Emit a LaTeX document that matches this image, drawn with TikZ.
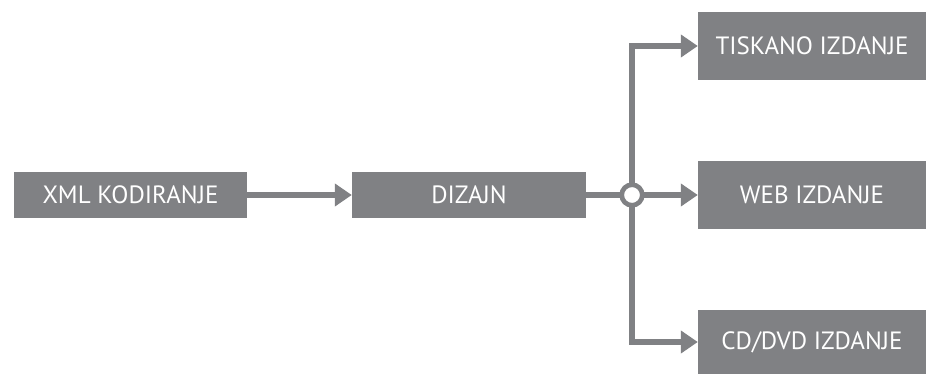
\documentclass[tikz,border=0pt]{standalone}
\usepackage{fontspec}
\setmainfont{PT Sans}
\usepackage{tikz}
\usetikzlibrary{arrows.meta}
\definecolor{boxgray}{RGB}{128,129,132}

\begin{document}
\begin{tikzpicture}[x=1pt, y=-1pt,
    stage/.style={fill=boxgray, text=white, inner sep=0pt, minimum height=46pt,
                  font=\fontsize{25}{25}\selectfont},
    output/.style={stage, minimum width=228pt, minimum height=68pt},
    flow/.style={draw=boxgray, line width=6pt, miter limit=4},
    flowto/.style={flow, -{Triangle[length=17pt,width=22pt]}}]
\useasboundingbox (0,0) rectangle (926,374);
\node[stage, minimum width=233pt] (xml) at (130.5,195) {XML KODIRANJE};
\node[stage, minimum width=234pt] (dizajn) at (469,195) {DIZAJN};
\node[output] (tisak) at (812,46) {TISKANO IZDANJE};
\node[output] (web) at (812,195) {WEB IZDANJE};
\node[output, minimum height=64pt] (cd) at (812,342) {CD/DVD IZDANJE};
\node[circle, draw=boxgray, line width=4.7pt, fill=white, minimum size=20.6pt,
      inner sep=0pt, outer sep=0pt] (split) at (632,195) {};
\coordinate (gore) at (split |- tisak.west);
\coordinate (dolje) at (split |- cd.west);
\draw[flowto] (xml.east) -- (dizajn.west);
\draw[flow] (dizajn.east) -- (split.west);
\draw[flowto] (split.east) -- (web.west);
\draw[flowto] (split.north) -- (gore) -- (tisak.west);
\draw[flowto] (split.south) -- (dolje) -- (cd.west);
\end{tikzpicture}
\end{document}
